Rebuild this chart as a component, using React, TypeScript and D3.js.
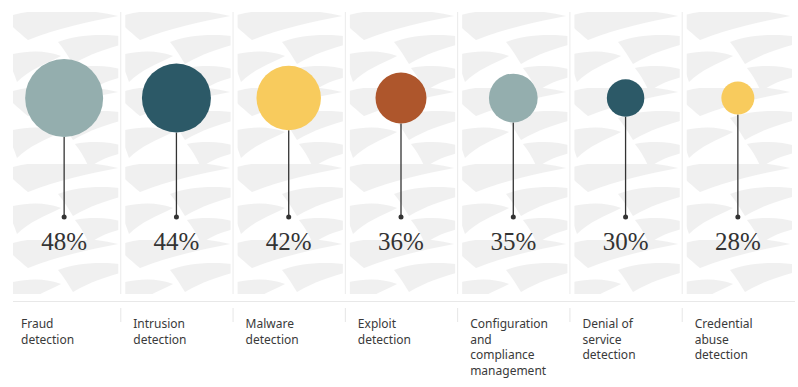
import React, { useEffect, useRef } from 'react';
import * as d3 from 'd3';

const categories = [
  'Fraud detection',
  'Intrusion detection',
  'Malware detection',
  'Exploit detection',
  'Configuration and compliance management',
  'Denial of service detection',
  'Credential abuse detection',
];
const labelLines = [
  ['Fraud', 'detection'],
  ['Intrusion', 'detection'],
  ['Malware', 'detection'],
  ['Exploit', 'detection'],
  ['Configuration', 'and', 'compliance', 'management'],
  ['Denial of', 'service', 'detection'],
  ['Credential', 'abuse', 'detection'],
];
const values = [48, 44, 42, 36, 35, 30, 28];
const colors = ['#94aeae', '#2c5967', '#f8cb5d', '#ae562c', '#94aeae', '#2c5967', '#f8cb5d'];

const W = 798;
const H = 387;

const App = () => {
  const ref = useRef<SVGSVGElement>(null);

  useEffect(() => {
    document.body.style.margin = '0';
    const svg = d3.select(ref.current);
    svg.selectAll('*').remove();

    const x = d3.scaleBand().domain(categories).range([8, 794]).paddingInner(0);
    const r = d3.scaleLinear().domain([28, 48]).range([16.5, 39]);
    const cy = 98;
    const stemEnd = 217;

    // background swoosh pattern
    const defs = svg.append('defs');
    const pat = defs
      .append('pattern')
      .attr('id', 'swoosh')
      .attr('patternUnits', 'userSpaceOnUse')
      .attr('width', 112)
      .attr('height', 76)
      .attr('x', 13)
      .attr('y', 12);
    pat.append('rect').attr('width', 112).attr('height', 76).attr('fill', '#ffffff');
    const swooshes = [
      'M-10,6 C25,-6 70,-4 105,4 C75,10 45,16 15,28 C5,20 -3,12 -10,6 Z',
      'M45,30 C65,22 100,20 125,28 C102,34 80,40 60,52 C54,42 50,36 45,30 Z',
      'M-8,44 C14,38 32,38 48,44 C32,52 16,58 4,70 C0,58 -4,50 -8,44 Z',
      'M62,56 C82,52 104,54 122,62 C104,66 88,70 76,80 C72,70 67,62 62,56 Z',
    ];
    pat
      .selectAll('path')
      .data(swooshes)
      .enter()
      .append('path')
      .attr('d', (d) => d)
      .attr('fill', '#f0f0f0');

    const g = svg.append('g');

    // panels
    g.selectAll('.panel')
      .data(categories)
      .enter()
      .append('rect')
      .attr('class', 'panel')
      .attr('x', (d) => (x(d) as number) + 5)
      .attr('y', 12)
      .attr('width', x.bandwidth() - 7)
      .attr('height', 282)
      .attr('fill', 'url(#swoosh)');

    g.selectAll('.sep')
      .data(categories.slice(1))
      .enter()
      .append('line')
      .attr('class', 'sep')
      .attr('x1', (d) => (x(d) as number) + 0.5)
      .attr('x2', (d) => (x(d) as number) + 0.5)
      .attr('y1', 12)
      .attr('y2', 294)
      .attr('stroke', '#ebebeb')
      .attr('stroke-width', 1);

    // baseline rule
    g.append('line')
      .attr('x1', 13)
      .attr('x2', 795)
      .attr('y1', 301.5)
      .attr('y2', 301.5)
      .attr('stroke', '#e8e8e8');

    g.selectAll('.tick')
      .data(categories.slice(1))
      .enter()
      .append('line')
      .attr('class', 'tick')
      .attr('x1', (d) => (x(d) as number) + 0.5)
      .attr('x2', (d) => (x(d) as number) + 0.5)
      .attr('y1', 308)
      .attr('y2', 322)
      .attr('stroke', '#e6e6e6');

    const cols = g
      .selectAll('.col')
      .data(categories)
      .enter()
      .append('g')
      .attr('class', 'col')
      .attr('transform', (d) => `translate(${(x(d) as number) + x.bandwidth() / 2},0)`);

    cols
      .append('line')
      .attr('y1', (d, i) => cy + r(values[i]))
      .attr('y2', stemEnd)
      .attr('stroke', '#333')
      .attr('stroke-width', 1.3);

    cols.append('circle').attr('cy', stemEnd).attr('r', 2.5).attr('fill', '#333');

    cols
      .append('circle')
      .attr('cy', cy)
      .attr('r', (d, i) => r(values[i]))
      .attr('fill', (d, i) => colors[i]);

    cols
      .append('text')
      .attr('y', 250)
      .attr('text-anchor', 'middle')
      .attr('font-family', 'Liberation Serif, serif')
      .attr('font-size', 25)
      .attr('fill', '#333')
      .text((d, i) => `${values[i]}%`);

    // category labels, left-aligned in each band
    const labX = 13 - x.bandwidth() / 2;
    const lab = cols
      .append('text')
      .attr('y', 328)
      .attr('font-family', 'Noto Sans, sans-serif')
      .attr('font-size', 12)
      .attr('fill', '#3a3a3a');
    lab
      .selectAll('tspan')
      .data((d, i) => labelLines[i])
      .enter()
      .append('tspan')
      .attr('x', labX)
      .attr('dy', (d, i) => (i === 0 ? 0 : 15.5))
      .text((d) => d);
  }, []);

  return <svg ref={ref} width={W} height={H} style={{ display: 'block' }} />;
};

export default App;
